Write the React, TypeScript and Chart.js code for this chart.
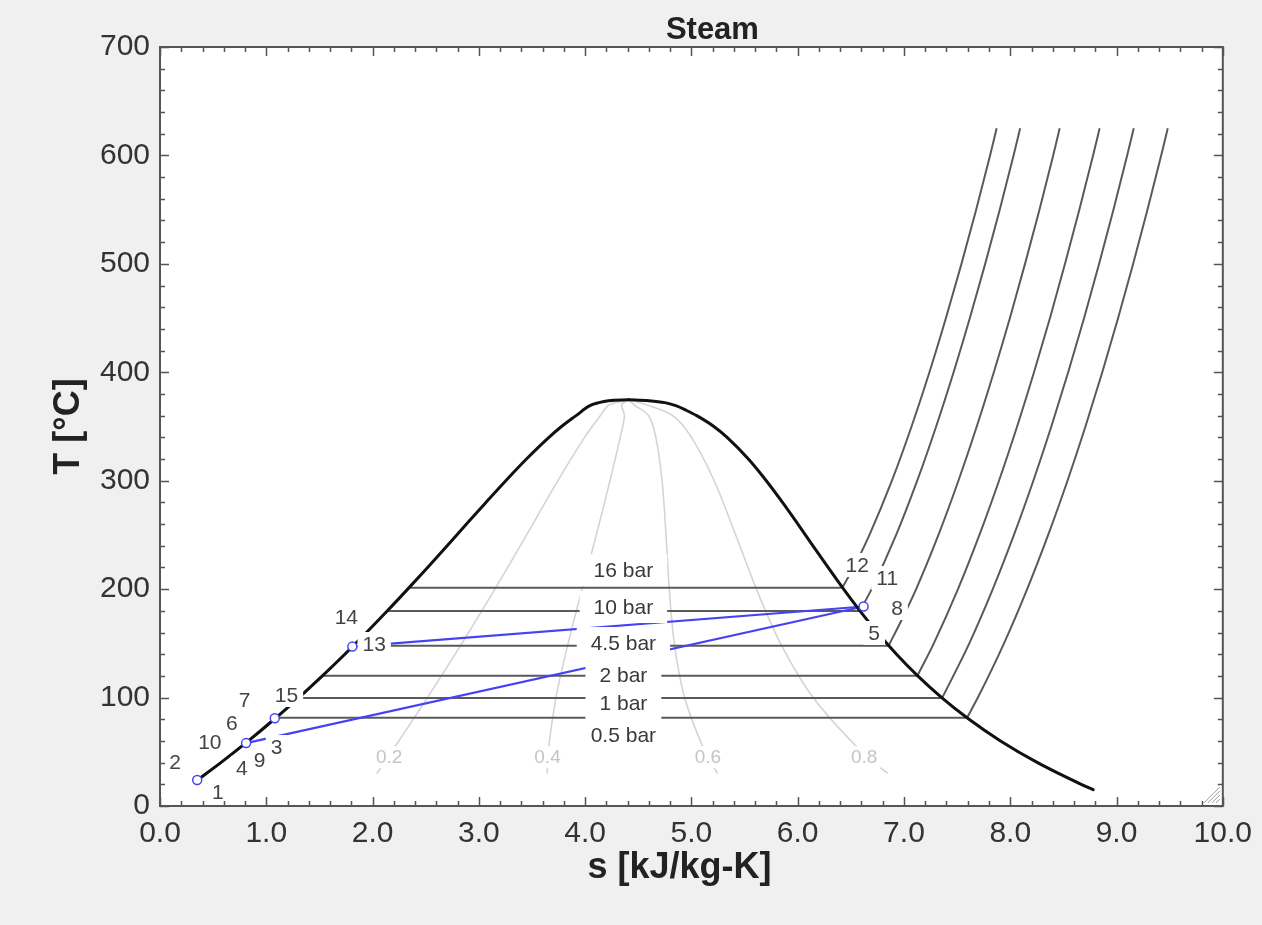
import React, { useEffect, useRef } from 'react';
import { Chart, registerables } from 'chart.js';
Chart.register(...registerables);

const FONT = '"Liberation Sans", Arial, Helvetica, sans-serif';

// ---- Saturation dome: liquid branch (up to the critical point) ----
const liqS = [0.3534, 0.5725, 0.8312, 1.0753, 1.3069, 1.5278, 1.7391, 1.9427, 2.1396, 2.3305, 2.5182, 2.7021, 2.8838, 3.0668, 3.2534, 3.448, 3.6594, 3.7777, 3.9147, 4.04, 4.13, 4.22, 4.41];
const liqT = [24, 40, 60, 80, 100, 120, 140, 160, 180, 200, 220, 240, 260, 280, 300, 320, 340, 350, 360, 369, 372, 373.8, 374.6];
// vapour branch (from the critical point down)
const vapS = [4.41, 4.6, 4.75, 4.86, 4.95, 5.05, 5.2112, 5.3357, 5.5362, 5.7045, 5.8571, 6.0019, 6.1437, 6.2861, 6.4323, 6.5857, 6.7502, 6.9299, 7.1296, 7.3549, 7.6122, 7.9085, 8.257, 8.6672, 8.7803];
const vapT = [374.6, 373.8, 372, 369, 365, 360, 350, 340, 320, 300, 280, 260, 240, 220, 200, 180, 160, 140, 120, 100, 80, 60, 40, 20, 15];

// ---- Isobars ----
const isobarNames = ['16 bar', '10 bar', '4.5 bar', '2 bar', '1 bar', '0.5 bar'];
const isobarTsat = [201.37, 179.88, 147.9, 120.21, 99.61, 81.32];
const isobarSf = [2.3436, 2.1381, 1.8207, 1.5302, 1.3028, 1.0912];
const isobarSg = [6.42, 6.585, 6.8565, 7.127, 7.3589, 7.5931];

// superheated branches (start on the vapour line)
const sh16S = [6.42, 6.5537, 6.6753, 6.8864, 7.0713, 7.2394, 7.395, 7.541, 7.6792, 7.8101, 7.872];
const sh16T = [201.37, 225, 250, 300, 350, 400, 450, 500, 550, 600, 625];
const sh10S = [6.585, 6.6956, 6.9265, 7.1246, 7.3029, 7.467, 7.62, 7.7642, 7.9011, 8.0311, 8.093];
const sh10T = [179.88, 200, 250, 300, 350, 400, 450, 500, 550, 600, 625];
const sh45S = [6.8565, 6.995, 7.1145, 7.3243, 7.5122, 7.6848, 7.8455, 7.997, 8.139, 8.275, 8.404, 8.465];
const sh45T = [147.9, 175, 200, 250, 300, 350, 400, 450, 500, 550, 600, 625];
const sh2S = [7.127, 7.281, 7.5081, 7.71, 7.8941, 8.0644, 8.2236, 8.374, 8.5153, 8.65, 8.7793, 8.841];
const sh2T = [120.21, 150, 200, 250, 300, 350, 400, 450, 500, 550, 600, 625];
const sh1S = [7.3589, 7.6148, 7.8356, 8.0346, 8.2172, 8.3866, 8.5452, 8.695, 8.8362, 8.971, 9.0999, 9.162];
const sh1T = [99.61, 150, 200, 250, 300, 350, 400, 450, 500, 550, 600, 625];
const sh05S = [7.5931, 7.6953, 7.9413, 8.1592, 8.3568, 8.5386, 8.7076, 8.8659, 9.015, 9.1566, 9.291, 9.4201, 9.482];
const sh05T = [81.32, 100, 150, 200, 250, 300, 350, 400, 450, 500, 550, 600, 625];

// ---- Constant-quality lines ----
const qualityNames = ['0.2', '0.4', '0.6', '0.8'];
const qualityT = [30, 50, 100, 150, 200, 250, 300, 340, 360, 370, 374.6];
const q02S = [2.0398, 2.178, 2.5165, 2.8409, 3.1509, 3.4494, 3.7436, 3.9947, 4.1423, 4.2272, 4.41];
const q04S = [3.6429, 3.6522, 3.7261, 3.8399, 3.9712, 4.1053, 4.2338, 4.3299, 4.3699, 4.3437, 4.41];
const q06S = [5.2459, 5.1264, 4.9357, 4.839, 4.7916, 4.7611, 4.7241, 4.6652, 4.5974, 4.4603, 4.41];
const q08S = [6.849, 6.6006, 6.1453, 5.838, 5.6119, 5.417, 5.2143, 5.0004, 4.825, 4.5768, 4.41];
const qualityLabelS = [2.156, 3.646, 5.155, 6.626];
const qualityLabelT = [45, 45, 45, 45];

// ---- Cycle (process lines and state points) ----
const procAS = [0.35, 0.5725, 0.81, 1.08];
const procAT = [24, 40, 58, 81];
const procBS = [0.81, 6.62];
const procBT = [58, 184];
const procCS = [1.81, 6.62];
const procCT = [147, 184];
const procDS = [1.33, 1.5278, 1.7391, 1.81];
const procDT = [102, 120, 140, 147];
const stateS = [0.35, 0.81, 1.08, 1.81, 6.62];
const stateT = [24, 58, 81, 147, 184];

// state-number labels
const stateLabels = ['1', '2', '10', '6', '7', '4', '9', '3', '15', '14', '13', '12', '11', '8', '5'];
const stateLabelS = [0.544, 0.141, 0.469, 0.675, 0.797, 0.769, 0.937, 1.097, 1.19, 1.753, 2.015, 6.56, 6.842, 6.935, 6.72];
const stateLabelT = [12.9, 40.6, 59.0, 76.5, 97.7, 35.0, 42.4, 54.4, 102.4, 174.3, 149.4, 222.3, 210.3, 182.6, 159.6];

// isobar labels
const isobarLabelS = [4.36, 4.36, 4.36, 4.36, 4.36, 4.36];
const isobarLabelT = [217.6, 183.5, 150.3, 120.8, 95.0, 65.5];

const xTicks = [0, 1, 2, 3, 4, 5, 6, 7, 8, 9, 10];
const xTitle = 's [kJ/kg-K]';
const yTitle = 'T [°C]';
const chartTitle = 'Steam';

const pts = (s: number[], t: number[]) => s.map((v, i) => ({ x: v, y: t[i] }));

const BLUE = '#4343f5';

const decorPlugin = {
  id: 'decor',
  beforeDraw(chart: any) {
    const { ctx, chartArea: a } = chart;
    ctx.save();
    ctx.fillStyle = '#ffffff';
    ctx.fillRect(a.left, a.top, a.right - a.left, a.bottom - a.top);
    ctx.restore();
  },
  afterDatasetsDraw(chart: any) {
    const { ctx, chartArea: a, scales } = chart;
    const x = scales.x, y = scales.y;
    ctx.save();
    ctx.beginPath();
    ctx.rect(a.left, a.top, a.right - a.left, a.bottom - a.top);
    ctx.clip();
    const label = (text: string, s: number, t: number, size: number, color: string, padX: number, h: number) => {
      const px = x.getPixelForValue(s);
      const py = y.getPixelForValue(t);
      ctx.font = `${size}px ${FONT}`;
      const w = ctx.measureText(text).width + padX * 2;
      ctx.fillStyle = '#ffffff';
      ctx.fillRect(px - w / 2, py - h / 2, w, h);
      ctx.fillStyle = color;
      ctx.textAlign = 'center';
      ctx.textBaseline = 'middle';
      ctx.fillText(text, px, py + 1);
    };
    qualityNames.forEach((n, i) => label(n, qualityLabelS[i], qualityLabelT[i], 19, '#c4c4c4', 3, 22));
    isobarNames.forEach((n, i) => label(n, isobarLabelS[i], isobarLabelT[i], 21, '#3a3a3a', 14, 32));
    stateLabels.forEach((n, i) => label(n, stateLabelS[i], stateLabelT[i], 21, '#444444', 5, 24));
    ctx.restore();

    // state point markers on top
    ctx.save();
    ctx.strokeStyle = BLUE;
    ctx.lineWidth = 1.5;
    stateS.forEach((s, i) => {
      ctx.beginPath();
      ctx.arc(x.getPixelForValue(s), y.getPixelForValue(stateT[i]), 4.5, 0, Math.PI * 2);
      ctx.fillStyle = '#ffffff';
      ctx.fill();
      ctx.stroke();
    });
    ctx.restore();

    // frame and inward ticks
    ctx.save();
    ctx.strokeStyle = '#555555';
    ctx.lineWidth = 2;
    ctx.strokeRect(a.left, a.top, a.right - a.left, a.bottom - a.top);
    ctx.lineWidth = 1.5;
    ctx.beginPath();
    for (let i = 0; i <= 50; i++) {
      const px = Math.round(x.getPixelForValue(i * 0.2)) + 0.5;
      const len = i % 5 === 0 ? 9 : 5;
      ctx.moveTo(px, a.bottom); ctx.lineTo(px, a.bottom - len);
      ctx.moveTo(px, a.top); ctx.lineTo(px, a.top + len);
    }
    for (let i = 0; i <= 35; i++) {
      const py = Math.round(y.getPixelForValue(i * 20)) + 0.5;
      const len = i % 5 === 0 ? 9 : 5;
      ctx.moveTo(a.left, py); ctx.lineTo(a.left + len, py);
      ctx.moveTo(a.right, py); ctx.lineTo(a.right - len, py);
    }
    ctx.stroke();
    // resize grip
    ctx.strokeStyle = '#9a9a9a';
    ctx.lineWidth = 1;
    ctx.beginPath();
    for (let k = 1; k <= 4; k++) {
      ctx.moveTo(a.right - 3 - 4 * k, a.bottom - 3);
      ctx.lineTo(a.right - 3, a.bottom - 3 - 4 * k);
    }
    ctx.stroke();
    ctx.restore();
  },
  afterDraw(chart: any) {
    const { ctx, chartArea: a } = chart;
    const cx = (a.left + a.right) / 2;
    ctx.save();
    ctx.fillStyle = '#222222';
    ctx.textAlign = 'center';
    ctx.textBaseline = 'middle';
    ctx.font = `bold 31px ${FONT}`;
    ctx.fillText(chartTitle, cx + 21, 30);
    ctx.font = `bold 36px ${FONT}`;
    ctx.fillText(xTitle, cx - 12, a.bottom + 62);
    ctx.translate(69, (a.top + a.bottom) / 2);
    ctx.rotate(-Math.PI / 2);
    ctx.fillText(yTitle, 0, 0);
    ctx.restore();
  },
};

export default function App() {
  const ref = useRef<HTMLCanvasElement>(null);
  useEffect(() => {
    document.body.style.margin = '0';
    const lineDs = (data: any[], color: string, width: number, order: number, extra: any = {}) => ({
      data, borderColor: color, borderWidth: width, showLine: true, pointRadius: 0, fill: false, order, ...extra,
    });
    const qual = [q02S, q04S, q06S, q08S].map((s) => lineDs(pts(s, qualityT), '#d4d4d4', 1.6, 10, { tension: 0.3 }));
    const satLines = isobarNames.map((_, i) =>
      lineDs([{ x: isobarSf[i], y: isobarTsat[i] }, { x: isobarSg[i], y: isobarTsat[i] }], '#5a5a5a', 2, 9));
    const sh = [[sh16S, sh16T], [sh10S, sh10T], [sh45S, sh45T], [sh2S, sh2T], [sh1S, sh1T], [sh05S, sh05T]]
      .map(([s, t]) => lineDs(pts(s, t), '#5a5a5a', 2, 9, { cubicInterpolationMode: 'monotone' }));
    const proc = [[procAS, procAT], [procBS, procBT], [procCS, procCT], [procDS, procDT]]
      .map(([s, t]) => lineDs(pts(s, t), BLUE, 2.2, 7));
    const domeStyle = { cubicInterpolationMode: 'monotone', borderCapStyle: 'round', borderJoinStyle: 'round' };
    const domeL = lineDs(pts(liqS, liqT), '#111111', 3, 5, domeStyle);
    const domeV = lineDs(pts(vapS, vapT), '#111111', 3, 5, domeStyle);

    const chart = new Chart(ref.current as HTMLCanvasElement, {
      type: 'scatter',
      data: { datasets: [domeL, domeV, ...proc, ...satLines, ...sh, ...qual] as any },
      options: {
        animation: false,
        responsive: false,
        maintainAspectRatio: false,
        devicePixelRatio: 1,
        layout: { padding: { top: 47, right: 35, bottom: 0, left: 0 } },
        plugins: { legend: { display: false }, tooltip: { enabled: false }, title: { display: false } },
        scales: {
          x: {
            type: 'linear', min: 0, max: 10,
            afterBuildTicks: (s: any) => { s.ticks = xTicks.map((v) => ({ value: v })); },
            ticks: {
              callback: (v: any) => Number(v).toFixed(1),
              font: { family: FONT, size: 30 }, color: '#333333', padding: 10, maxRotation: 0, autoSkip: false,
            },
            grid: { display: false, drawTicks: false },
            border: { display: false },
            title: { display: false },
            afterFit: (s: any) => { s.height = 119; },
          },
          y: {
            type: 'linear', min: 0, max: 700,
            ticks: { stepSize: 100, font: { family: FONT, size: 30 }, color: '#333333', padding: 10 },
            grid: { display: false, drawTicks: false },
            border: { display: false },
            title: { display: false },
            afterFit: (s: any) => { s.width = 160; },
          },
        },
      } as any,
      plugins: [decorPlugin],
    });
    return () => chart.destroy();
  }, []);
  return (
    <div style={{ position: 'absolute', left: 0, top: 0, width: 1262, height: 925, background: '#f0f0f0' }}>
      <canvas ref={ref} width={1262} height={925} style={{ display: 'block' }} />
    </div>
  );
}
